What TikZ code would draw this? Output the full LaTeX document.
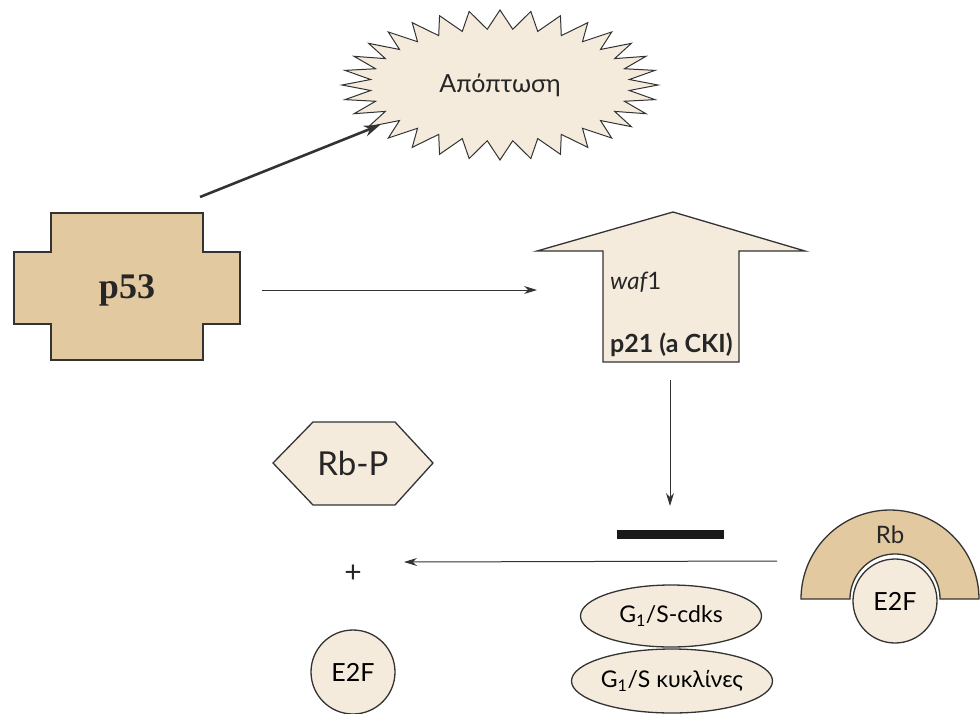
\documentclass[tikz,border=0pt]{standalone}
\usepackage{fontspec}
\setmainfont{Lato}
\newfontfamily\serifb{Liberation Serif}
\usetikzlibrary{arrows.meta,shapes.geometric}
\definecolor{ptan}{HTML}{E2C9A0}
\definecolor{pcream}{HTML}{F4EBDC}
\definecolor{pline}{HTML}{333333}
\newcommand{\fsz}[1]{\fontsize{#1}{#1}\selectfont}
\begin{document}
\begin{tikzpicture}[x=1pt,y=-1pt,
  shapeline/.style={draw=pline,line width=1.3pt},
  conn/.style={draw=pline,line width=1pt,-{Stealth[length=13pt,width=8pt]}},
  oval/.style={ellipse,shapeline,fill=pcream,minimum width=181pt,minimum height=62pt,inner sep=0pt},
  ball/.style={circle,shapeline,fill=pcream,minimum size=84pt,inner sep=0pt},
  lbl/.style={text=black!85,inner sep=0pt}]
\useasboundingbox (0,0) rectangle (980,713);
% starburst
\begin{scope}[shift={(500,85)}]
\filldraw[fill=pcream,draw=pline,line width=1pt] (0:158 and 75)
  \foreach \i in {0,...,31}{ -- ({(\i+0.5)*11.25}:130 and 56) -- ({(\i+1)*11.25}:158 and 75)} -- cycle;
\end{scope}
\node[lbl] (apo) at (500,85) {\fsz{25}Απόπτωση};
% p53
\filldraw[fill=ptan,shapeline] (51,213) -- (203,213) -- (203,252) -- (240,252) -- (240,324) -- (203,324) -- (203,360) -- (51,360) -- (51,324) -- (14,324) -- (14,252) -- (51,252) -- cycle;
\node[lbl] (p53) at (127,290) {\serifb\bfseries\fsz{36}p53};
% up arrow
\filldraw[fill=pcream,shapeline] (673,212) -- (805,251) -- (739,251) -- (739,362) -- (603,362) -- (603,251) -- (537,251) -- cycle;
\node[lbl,anchor=west] (waf) at (610,282) {\fsz{24}\itshape waf\upshape 1};
\node[lbl,anchor=west] (p21) at (610,345) {\fsz{25}\bfseries p21 (a CKI)};
% Rb-P hexagon
\filldraw[fill=pcream,shapeline] (273,463) -- (313,422) -- (395,422) -- (433,463) -- (395,505) -- (313,505) -- cycle;
\node[lbl] (rbp) at (353,463) {\fsz{33}Rb-P};
% plus and free E2F
\node[lbl] (plus) at (353,574) {\fsz{30}+};
\node[ball] (e2f) at (353,672) {\fsz{25}E2F};
% block bar
\fill[black!90] (617,530) rectangle (724,539);
% cyclin ellipses
\node[oval] (cdk) at (671,616) {\fsz{23}G\textsubscript{1}/S-cdks};
\node[oval,minimum height=64pt] (cyc) at (672,681) {\fsz{23}G\textsubscript{1}/S κυκλίνες};
% Rb half annulus with E2F
\filldraw[fill=ptan,shapeline] plot[domain=180:360,samples=72] ({890+89*cos(\x)},{599+89*sin(\x)})
  -- plot[domain=360:180,samples=72] ({895+45*cos(\x)},{599+45*sin(\x)}) -- cycle;
\node[ball] (e2fb) at (895,601) {\fsz{25}E2F};
\node[lbl] (rb) at (890,535) {\fsz{24}Rb};
% connectors
\coordinate (p53ne) at (200,197);
\coordinate (apow) at (380,125);
\draw[conn,line width=2.6pt,-{Stealth[length=16pt,width=11pt]}] (p53ne) -- (apow);
\coordinate (p53e) at (262,290);
\coordinate (wafw) at (537,290);
\draw[conn] (p53e) -- (wafw);
\coordinate (wafs) at (670,380);
\coordinate (bartop) at (670,506);
\draw[conn] (wafs) -- (bartop);
\coordinate (rbw) at (777,561);
\coordinate (plusr) at (404,562);
\draw[conn] (rbw) -- (plusr);
\end{tikzpicture}
\end{document}
